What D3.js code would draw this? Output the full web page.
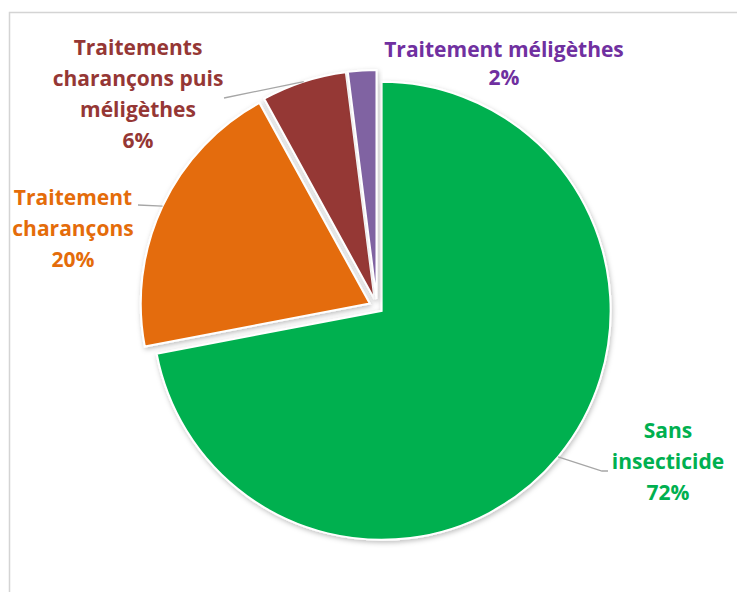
<!DOCTYPE html>
<html>
<head>
<meta charset="utf-8">
<script src="https://cdnjs.cloudflare.com/ajax/libs/d3/7.8.5/d3.min.js"></script>
<style>
  body { margin: 0; background: #fff; }
  svg { display: block; }
</style>
</head>
<body>
<script>
// slices, clockwise from 12 o'clock
const categories = ['Sans insecticide', 'Traitement charançons', 'Traitements charançons puis méligèthes', 'Traitement méligèthes'];
const values = [72, 20, 6, 2];
const labelLines = [
  ['Sans', 'insecticide', '72%'],
  ['Traitement', 'charançons', '20%'],
  ['Traitements', 'charançons puis', 'méligèthes', '6%'],
  ['Traitement méligèthes', '2%']
];
const colors = ['#00b050', '#e46c0a', '#953735', '#8064a2'];
const textColors = ['#00b050', '#e46c0a', '#953735', '#7030a0'];
const explode = [6, 8, 8, 8];

// label anchors (center x, first baseline)
const labelPos = [[668, 438], [73, 205], [138, 55], [504, 57]];
const lineH = 31;

const width = 737;
const height = 592;
const cx = 377;
const cy = 307;
const radius = 229;

const svg = d3.select('body')
  .append('svg')
  .attr('width', width)
  .attr('height', height);

const defs = svg.append('defs');
const shadow = defs.append('filter')
  .attr('id', 'shadow')
  .attr('x', '-20%').attr('y', '-20%')
  .attr('width', '140%').attr('height', '140%');
shadow.append('feDropShadow')
  .attr('dx', 1).attr('dy', 2)
  .attr('stdDeviation', 2.5)
  .attr('flood-color', '#000')
  .attr('flood-opacity', 0.25);

// chart frame
svg.append('path')
  .attr('d', `M9.5,${height} V12.5 H${width}`)
  .attr('fill', 'none')
  .attr('stroke', '#d4d4d4')
  .attr('stroke-width', 1.5);

const pie = d3.pie().sort(null).value(d => d);
const arcs = pie(values);
const arc = d3.arc().innerRadius(0).outerRadius(radius);

function offset(d, i) {
  const mid = (d.startAngle + d.endAngle) / 2;
  return [cx + Math.sin(mid) * explode[i], cy - Math.cos(mid) * explode[i]];
}

const g = svg.append('g');
g.selectAll('path')
  .data(arcs)
  .enter()
  .append('path')
  .attr('transform', (d, i) => 'translate(' + offset(d, i) + ')')
  .attr('d', arc)
  .attr('fill', (d, i) => colors[i])
  .attr('stroke', '#fff')
  .attr('stroke-width', 2)
  .attr('stroke-linejoin', 'miter')
  .attr('filter', 'url(#shadow)');

// leader lines: from label to slice outer arc midpoint
function outerMid(i) {
  const d = arcs[i];
  const o = offset(d, i);
  const mid = (d.startAngle + d.endAngle) / 2;
  return [o[0] + Math.sin(mid) * radius, o[1] - Math.cos(mid) * radius];
}
const leaders = [
  [[608, 471], [602, 471], outerMid(0)],
  [[138, 205], outerMid(1)],
  [[224, 98], outerMid(2)]
];
svg.append('g')
  .selectAll('path')
  .data(leaders)
  .enter()
  .append('path')
  .attr('d', d => d3.line()(d))
  .attr('fill', 'none')
  .attr('stroke', '#a6a6a6')
  .attr('stroke-width', 1.3);

// labels
const labels = svg.append('g')
  .attr('font-family', '"Open Sans", sans-serif')
  .attr('font-weight', 700)
  .attr('font-size', 21)
  .attr('text-anchor', 'middle');

labelLines.forEach((lines, i) => {
  const t = labels.append('text')
    .attr('fill', textColors[i])
    .attr('x', labelPos[i][0])
    .attr('y', labelPos[i][1]);
  lines.forEach((line, j) => {
    t.append('tspan')
      .attr('x', labelPos[i][0])
      .attr('y', labelPos[i][1] + j * (i === 3 ? 28 : lineH))
      .text(line);
  });
});
</script>
</body>
</html>
